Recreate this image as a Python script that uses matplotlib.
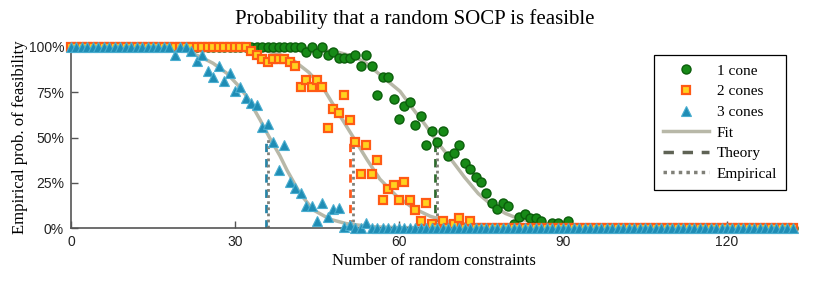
import matplotlib
matplotlib.use("Agg")
import matplotlib.pyplot as plt
from matplotlib.lines import Line2D

# number of random constraints, 0..132
constraints = list(range(133))

# empirical probability of feasibility (%)
one_cone = [100] * 43 + [97.4, 99.8, 96.9, 99.8, 95.6, 97.4, 93.7, 93.7, 93.7, 95.6,
                         89.5, 95.6, 89.5, 73.5, 83.6, 83.6, 71.1, 60.1, 67.4, 69.8,
                         56.9, 61.9, 45.9, 53.8, 47.7, 53.8, 39.8, 41.6, 45.9, 35.7,
                         32.4, 28.4, 25.6, 19.5, 14.0, 10.3, 14.0, 12.2, 2.0, 5.9,
                         7.9, 5.4, 5.6, 4.0, 0, 2.6, 2.6, 0, 4.0] + [0] * 41
two_cones = [100] * 33 + [97.6, 95.4, 93.5, 91.7, 93.5, 93.5, 93.5, 91.7, 89.5, 77.7,
                          81.8, 77.7, 81.8, 77.7, 55.2, 65.7, 63.5, 73.3, 59.8, 47.5,
                          29.8, 45.7, 29.8, 37.7, 15.6, 21.7, 23.6, 15.6, 25.4, 15.6,
                          10.1, 4.0, 13.8, 2.0, 0, 4.0, 0, 2.0, 5.8, 0, 4.0] + [0] * 59
three_cones = [100] * 19 + [95.6, 100, 100, 98.0, 92.0, 95.6, 87.0, 83.6, 89.5, 81.4,
                            85.5, 75.9, 77.7, 71.6, 69.2, 68.0, 55.6, 57.3, 47.7, 32.0,
                            45.9, 25.6, 21.9, 19.5, 12.2, 12.2, 4.0, 14.0, 5.9, 10.3,
                            10.8, 0.5, 1.8, 0, 0, 2.5] + [0] * 78

# fitted curves, points
fit1_x = [0, 40, 45, 49, 52, 54, 57, 60.2, 62.5, 64.8, 67, 69.5, 72, 74.5, 77, 79.5, 82, 86, 90, 95, 100, 132]
fit1_y = [100, 100, 99, 97, 94.5, 91, 83.5, 75.5, 66, 57, 47.5, 38, 28, 19, 12.5, 8, 5, 2.5, 1, 0.3, 0, 0]
fit2_x = [0, 30, 35, 38, 40.7, 43.5, 46.2, 48.9, 51.6, 54.1, 56.5, 59.6, 62.6, 65.7, 68.7, 72, 78, 85, 132]
fit2_y = [100, 100, 98.5, 96, 92.6, 86, 77, 63.5, 50.3, 38, 27, 17.5, 11, 6.5, 3.8, 2.2, 0.6, 0, 0]
fit3_x = [0, 14, 18.7, 21, 23.6, 26, 28.5, 30.5, 32.2, 34.6, 36.3, 38.2, 39.5, 41.9, 44.3, 47.4, 50.4, 55, 60, 132]
fit3_y = [100, 100, 99.3, 97.8, 94.7, 91, 85.5, 79, 72.5, 59.7, 50, 40, 32, 19, 10, 4.8, 2.4, 0.7, 0.2, 0]

# theoretical / empirical thresholds and the height of their markers (%)
theory_x = [66.6, 51.0, 35.7]
theory_top = [48, 50, 50]
empirical_x = [66.9, 51.6, 36.0]
empirical_top = [48, 48, 50]

green = "#178a17"
orange = "#ff5a14"
gold = "#ffd21f"
blue = "#1f8db5"
fit_col = "#b8b8a8"
theory_cols = ["#2e6b2e", "#ff5a1e", "#2a86a8"]
emp_col = "#808078"

serif = "Liberation Serif"
sans = "Liberation Sans"

fig = plt.figure(figsize=(8.3, 2.86), dpi=100)
ax = fig.add_axes([71 / 830, 58 / 286, 726 / 830, 181 / 286])

for fx, fy in [(fit1_x, fit1_y), (fit2_x, fit2_y), (fit3_x, fit3_y)]:
    ax.plot(fx, fy, color=fit_col, lw=2.5, zorder=1, solid_capstyle="round")

for i in range(3):
    ax.plot([theory_x[i], theory_x[i]], [0, theory_top[i]], color=theory_cols[i],
            lw=2, dashes=(3, 2.5), zorder=2)
    ax.plot([empirical_x[i], empirical_x[i]], [0, empirical_top[i]], color=emp_col,
            lw=2, dashes=(1, 1.2), zorder=2)

ax.plot(constraints, one_cone, "o", ms=6.5, mfc=green, mec="#0b5e0b", mew=1,
        clip_on=False, zorder=3)
ax.plot(constraints, two_cones, "s", ms=6, mfc=gold, mec=orange, mew=1.6,
        clip_on=False, zorder=4)
ax.plot(constraints, three_cones, "^", ms=7, mfc=blue, mec="#4aaed0", mew=0.8,
        clip_on=False, zorder=5)

ax.set_xlim(0, 132.8)
ax.set_ylim(0, 100)
ax.set_xticks([0, 30, 60, 90, 120])
ax.set_yticks([0, 25, 50, 75, 100])
ax.set_yticklabels(["0%", "25%", "50%", "75%", "100%"])
ax.tick_params(direction="in", length=5, width=1, color="#555555",
               labelsize=10, pad=5)
for lab in ax.get_xticklabels() + ax.get_yticklabels():
    lab.set_family(sans)
    lab.set_color("#222222")

for s in ["top", "right"]:
    ax.spines[s].set_visible(False)
for s in ["left", "bottom"]:
    ax.spines[s].set_color("#555555")
    ax.spines[s].set_linewidth(1.2)

ax.set_xlabel("Number of random constraints", family=serif, fontsize=12, labelpad=3)
ax.set_ylabel("Empirical prob. of feasibility", family=serif, fontsize=12, labelpad=0.5)
fig.text(0.5, 0.935, "Probability that a random SOCP is feasible", family=serif,
         fontsize=15, ha="center", va="center")

handles = [
    Line2D([], [], ls="none", marker="o", ms=6.5, mfc=green, mec="#0b5e0b", mew=1),
    Line2D([], [], ls="none", marker="s", ms=6, mfc=gold, mec=orange, mew=1.6),
    Line2D([], [], ls="none", marker="^", ms=7, mfc=blue, mec="#4aaed0", mew=0.8),
    Line2D([], [], color=fit_col, lw=2.5),
    Line2D([], [], color="#5f6355", lw=2.5, dashes=(3, 2.5)),
    Line2D([], [], color=emp_col, lw=2.5, dashes=(1, 1.2)),
]
labels = ["1 cone", "2 cones", "3 cones", "Fit", "Theory", "Empirical"]
leg = ax.legend(handles, labels, loc="upper right", bbox_to_anchor=(0.985, 0.956),
                borderaxespad=0, prop={"family": serif, "size": 11}, frameon=True,
                fancybox=False, edgecolor="black", framealpha=1, handlelength=3,
                handletextpad=0.5, labelspacing=0.45, borderpad=0.6)
leg.get_frame().set_linewidth(0.9)

fig.savefig("out.png", dpi=100)
